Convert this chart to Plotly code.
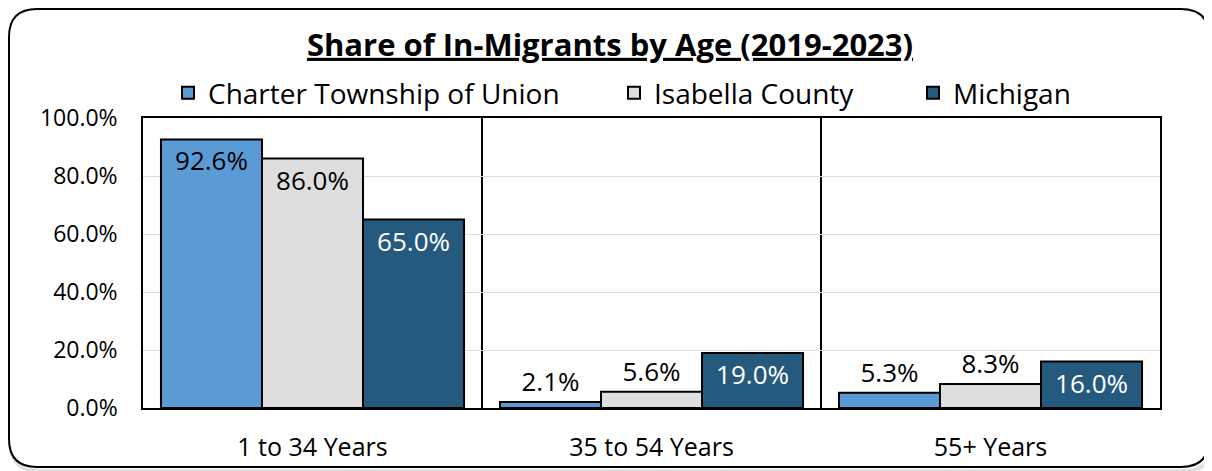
import plotly.graph_objects as go

# data
categories = ['1 to 34 Years', '35 to 54 Years', '55+ Years']
union_share = [92.6, 2.1, 5.3]
isabella_share = [86.0, 5.6, 8.3]
michigan_share = [65.0, 19.0, 16.0]
series_names = ['Charter Township of Union', 'Isabella County', 'Michigan']
y_ticks = [0, 20, 40, 60, 80, 100]

# page body adds an 8px margin, so the figure is a bit smaller than the window
W, H = 1204, 463
L, R, T, B = 135, 52, 110, 63
FONT = 'Open Sans'


def px(x):
    return (x - L) / (W - L - R)


def py(y):
    return (H - B - y) / (H - T - B)


def rounded_rect(x0, y0, x1, y1, r):
    # path in paper coords built from pixel positions
    pts = [
        f"M{px(x0 + r)},{py(y0)}",
        f"L{px(x1 - r)},{py(y0)}",
        f"Q{px(x1)},{py(y0)} {px(x1)},{py(y0 + r)}",
        f"L{px(x1)},{py(y1 - r)}",
        f"Q{px(x1)},{py(y1)} {px(x1 - r)},{py(y1)}",
        f"L{px(x0 + r)},{py(y1)}",
        f"Q{px(x0)},{py(y1)} {px(x0)},{py(y1 - r)}",
        f"L{px(x0)},{py(y0 + r)}",
        f"Q{px(x0)},{py(y0)} {px(x0 + r)},{py(y0)}",
        "Z",
    ]
    return ' '.join(pts)


def text_pos(vals):
    return ['inside' if v > 10 else 'outside' for v in vals]


fig = go.Figure()

colors = ['#5b9bd5', '#dedede', '#255a7e']
text_colors = ['black', 'black', 'white']
legend_ids = ['legend', 'legend2', 'legend3']
legend_left = [160, 606, 905]  # one legend box per series, like the original
for name, vals, col, tc, lg in zip(series_names,
                                   [union_share, isabella_share, michigan_share],
                                   colors, text_colors, legend_ids):
    fig.add_trace(go.Bar(
        name=name,
        x=categories,
        y=vals,
        legend=lg,
        marker=dict(color=col, line=dict(color='black', width=2)),
        text=[f'{v:.1f}%' for v in vals],
        textposition=text_pos(vals),
        insidetextanchor='end',
        insidetextfont=dict(family=FONT, size=26, color=tc),
        outsidetextfont=dict(family=FONT, size=26, color='black'),
        cliponaxis=False,
        constraintext='none',
    ))

# outer rounded border with faint shadow
fig.add_shape(type='path', xref='paper', yref='paper', layer='below',
              path=rounded_rect(3, 4, 1204, 463, 28),
              line=dict(color='rgba(0,0,0,0.12)', width=4))
fig.add_shape(type='path', xref='paper', yref='paper', layer='below',
              path=rounded_rect(1, 1, 1201, 459, 28),
              fillcolor='white', line=dict(color='black', width=2))

legend_style = dict(
    orientation='h', xanchor='left', y=py(85), yanchor='middle',
    font=dict(family=FONT, size=28), bgcolor='rgba(0,0,0,0)', itemwidth=30,
)

fig.update_layout(
    width=W, height=H,
    margin=dict(l=L, r=R, t=T, b=B, autoexpand=False),
    paper_bgcolor='rgba(0,0,0,0)',
    plot_bgcolor='#f0f0f0',
    barmode='group',
    bargap=0.106,
    bargroupgap=0,
    font=dict(family=FONT, size=23, color='black'),
    title=dict(
        text='<u><b>Share of In-Migrants by Age (2019-2023)</b></u>',
        x=0.5, xanchor='center', y=1 - 37 / H, yanchor='middle',
        font=dict(family=FONT, size=31, color='black'),
    ),
    legend=dict(x=px(legend_left[0]), **legend_style),
    legend2=dict(x=px(legend_left[1]), **legend_style),
    legend3=dict(x=px(legend_left[2]), **legend_style),
    xaxis=dict(
        showline=True, linecolor='black', linewidth=1.5, mirror=True,
        showgrid=True, gridcolor='black', gridwidth=1.5,
        tickson='boundaries', ticks='', ticklabelstandoff=16,
        tickfont=dict(family=FONT, size=25),
        automargin=False, fixedrange=True,
    ),
    yaxis=dict(
        range=[0, 100], tickvals=y_ticks,
        ticktext=[f'{v:.1f}%' for v in y_ticks],
        showline=True, linecolor='black', linewidth=1.5, mirror=True,
        showgrid=True, gridcolor='#dcdcdc', gridwidth=1,
        zeroline=False, ticks='', ticklabelstandoff=19,
        tickfont=dict(family=FONT, size=23),
        automargin=False, fixedrange=True,
    ),
    showlegend=True,
)

fig.write_html('out.html')
